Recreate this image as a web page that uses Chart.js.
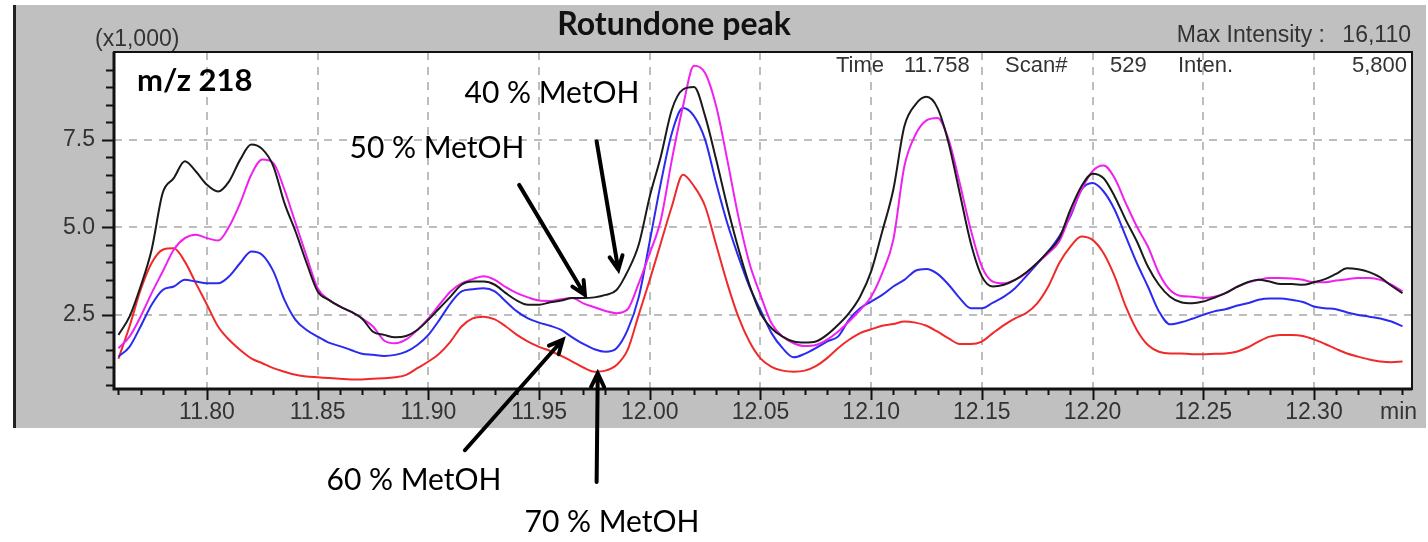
<!DOCTYPE html>
<html>
<head>
<meta charset="utf-8">
<script src="https://cdn.jsdelivr.net/npm/chart.js@4.4.1/dist/chart.umd.min.js"></script>
<style>
  html, body { margin: 0; padding: 0; background: #fff; }
  #wrap { position: relative; width: 1428px; height: 542px; }
</style>
</head>
<body>
<div id="wrap"><canvas id="chart"></canvas></div>
<script>
'use strict';

// retention time grid (min), one reading every 0.005 min
const timeStart = 11.760;
const timeStep = 0.005;

// intensity (x1,000) for each solvent
const metoh40 = [
    1.93, 2.45, 3.31, 4.36, 5.98, 6.40, 6.88, 6.59, 6.21, 6.02,
    6.31, 6.93, 7.36, 7.23, 6.74, 5.69, 4.88, 3.98, 3.17, 2.93,
    2.74, 2.59, 2.40, 2.02, 1.93, 1.86, 1.90, 2.07, 2.36, 2.69,
    3.02, 3.36, 3.45, 3.45, 3.36, 3.12, 2.91, 2.79, 2.79, 2.86,
    2.91, 2.98, 2.98, 3.00, 3.07, 3.21, 3.74, 4.50, 5.88, 7.02,
    8.36, 8.93, 9.00, 8.17, 6.93, 5.60, 4.40, 3.36, 2.55, 2.12,
    1.88, 1.74, 1.71, 1.74, 1.93, 2.21, 2.55, 3.02, 3.74, 4.88,
    6.07, 7.88, 8.50, 8.72, 8.40, 7.40, 5.98, 4.55, 3.60, 3.31,
    3.36, 3.50, 3.71, 3.98, 4.31, 4.69, 5.50, 6.17, 6.53, 6.40,
    5.88, 5.21, 4.60, 3.88, 3.36, 3.02, 2.86, 2.83, 2.88, 2.99,
    3.12, 3.29, 3.43, 3.50, 3.45, 3.38, 3.38, 3.36, 3.43, 3.52,
    3.67, 3.83, 3.80, 3.72, 3.57, 3.33, 3.12
];
const metoh50 = [
    1.55, 1.88, 2.45, 3.12, 3.74, 4.36, 4.69, 4.79, 4.69, 4.62,
    5.02, 5.69, 6.50, 6.93, 6.83, 6.07, 5.12, 4.17, 3.26, 2.93,
    2.74, 2.59, 2.40, 2.17, 1.77, 1.69, 1.80, 2.07, 2.40, 2.79,
    3.17, 3.40, 3.52, 3.60, 3.50, 3.29, 3.12, 3.00, 2.91, 2.90,
    2.95, 2.98, 2.83, 2.72, 2.61, 2.55, 2.66, 3.40, 4.26, 5.21,
    6.93, 8.45, 9.61, 9.40, 8.45, 6.93, 5.31, 3.98, 3.07, 2.26,
    1.88, 1.69, 1.61, 1.64, 1.79, 2.02, 2.31, 2.64, 3.02, 3.69,
    4.64, 6.74, 7.64, 8.05, 8.12, 7.50, 6.26, 4.93, 3.88, 3.45,
    3.40, 3.50, 3.69, 3.98, 4.26, 4.60, 5.36, 6.07, 6.60, 6.76,
    6.40, 5.69, 5.02, 4.45, 3.69, 3.21, 3.04, 3.02, 2.98, 3.02,
    3.12, 3.29, 3.42, 3.50, 3.55, 3.55, 3.54, 3.50, 3.43, 3.43,
    3.48, 3.52, 3.55, 3.55, 3.50, 3.36, 3.17
];
const metoh60 = [
    1.31, 1.59, 2.17, 2.79, 3.21, 3.31, 3.50, 3.45, 3.40, 3.40,
    3.60, 3.98, 4.31, 4.21, 3.74, 2.93, 2.36, 2.07, 1.88, 1.71,
    1.61, 1.50, 1.39, 1.36, 1.33, 1.36, 1.45, 1.64, 1.93, 2.36,
    2.83, 3.17, 3.23, 3.26, 3.17, 2.88, 2.60, 2.40, 2.28, 2.19,
    2.07, 1.86, 1.67, 1.52, 1.45, 1.55, 2.07, 3.00, 4.60, 6.26,
    7.69, 8.40, 8.17, 7.50, 6.26, 5.12, 4.17, 3.31, 2.64, 1.98,
    1.55, 1.29, 1.39, 1.55, 1.74, 1.88, 2.36, 2.69, 2.88, 3.07,
    3.31, 3.50, 3.76, 3.81, 3.67, 3.36, 2.98, 2.69, 2.69, 2.85,
    3.02, 3.26, 3.60, 3.96, 4.31, 4.74, 5.31, 6.07, 6.26, 6.02,
    5.50, 4.74, 3.98, 3.31, 2.60, 2.23, 2.29, 2.39, 2.50, 2.60,
    2.66, 2.76, 2.83, 2.93, 2.97, 2.97, 2.93, 2.87, 2.74, 2.69,
    2.66, 2.57, 2.50, 2.45, 2.40, 2.31, 2.18
];
const metoh70 = [
    1.25, 2.17, 3.21, 3.98, 4.36, 4.40, 4.02, 3.40, 2.79, 2.17,
    1.79, 1.50, 1.26, 1.12, 0.98, 0.88, 0.79, 0.74, 0.72, 0.70,
    0.68, 0.66, 0.66, 0.68, 0.69, 0.72, 0.79, 0.98, 1.17, 1.40,
    1.74, 2.17, 2.40, 2.45, 2.37, 2.17, 1.93, 1.74, 1.59, 1.47,
    1.33, 1.17, 1.00, 0.88, 0.91, 1.07, 1.50, 2.50, 3.50, 4.55,
    5.60, 6.50, 6.17, 5.60, 4.50, 3.40, 2.45, 1.74, 1.26, 1.02,
    0.91, 0.88, 0.91, 1.04, 1.26, 1.55, 1.79, 1.98, 2.09, 2.19,
    2.24, 2.31, 2.28, 2.19, 2.02, 1.83, 1.67, 1.67, 1.74, 1.98,
    2.21, 2.40, 2.55, 2.83, 3.31, 3.98, 4.45, 4.74, 4.64, 4.26,
    3.60, 2.74, 2.07, 1.64, 1.45, 1.40, 1.40, 1.38, 1.38, 1.39,
    1.40, 1.45, 1.57, 1.74, 1.88, 1.93, 1.93, 1.90, 1.80, 1.67,
    1.53, 1.40, 1.31, 1.23, 1.17, 1.15, 1.17
];

const xMajorTicks = [11.80, 11.85, 11.90, 11.95, 12.00, 12.05, 12.10, 12.15, 12.20, 12.25, 12.30];
const yMajorTicks = [2.5, 5.0, 7.5];

// arrows: [time, intensity] of tail and head
const arrows = [
    { from: [11.9760, 7.45], to: [11.9858, 3.79] },
    { from: [11.9410, 6.21], to: [11.9707, 3.07] },
    { from: [11.9165, -1.36], to: [11.9607, 1.79] },
    { from: [11.9760, -2.27], to: [11.9765, 0.83] }
];
const arrowLabels = [
    { text: '40 % MetOH', x: 552, y: 93 },
    { text: '50 % MetOH', x: 437, y: 148 },
    { text: '60 % MetOH', x: 414, y: 480 },
    { text: '70 % MetOH', x: 612, y: 522 }
];

const toPoints = vals => vals.map((v, i) => ({ x: timeStart + i * timeStep, y: v }));

const axisFont = { family: 'Liberation Sans', size: 23 };
const gridStyle = { color: '#bdbdbd', lineWidth: 2, drawTicks: false };
const borderStyle = { display: false, dash: [8, 7] };

const chromPanel = {
    id: 'chromPanel',
    beforeDraw(chart) {
        const ctx = chart.ctx;
        const a = chart.chartArea;
        ctx.save();
        ctx.fillStyle = '#ffffff';
        ctx.fillRect(0, 0, chart.width, chart.height);
        ctx.fillStyle = '#c0c0c0';
        ctx.fillRect(14, 5, 1412, 423);
        ctx.fillStyle = '#222';
        ctx.fillRect(13, 5, 3, 423);
        ctx.fillStyle = '#ffffff';
        ctx.fillRect(a.left, a.top, a.right - a.left, a.bottom - a.top);
        ctx.restore();
    },
    afterDraw(chart) {
        const ctx = chart.ctx;
        const a = chart.chartArea;
        const xs = chart.scales.x;
        const ys = chart.scales.y;
        ctx.save();

        // frame
        ctx.strokeStyle = '#111';
        ctx.lineWidth = 2;
        ctx.strokeRect(a.left, a.top, a.right - a.left, a.bottom - a.top);
        ctx.lineWidth = 3;
        ctx.beginPath();
        ctx.moveTo(a.left, a.top);
        ctx.lineTo(a.left, a.bottom);
        ctx.lineTo(a.right, a.bottom);
        ctx.stroke();

        // tick marks
        ctx.lineWidth = 2;
        ctx.beginPath();
        for (let k = 1176; k <= 1234; k++) {
            const px = Math.round(xs.getPixelForValue(k / 100)) + 0.5;
            const len = k % 5 === 0 ? 11 : 6;
            ctx.moveTo(px, a.bottom);
            ctx.lineTo(px, a.bottom + len);
        }
        for (let k = 1; k <= 19; k++) {
            const py = Math.round(ys.getPixelForValue(k * 0.5)) + 0.5;
            const len = k % 5 === 0 ? 12 : 8;
            ctx.moveTo(a.left, py);
            ctx.lineTo(a.left - len, py);
        }
        ctx.stroke();

        // header texts
        ctx.fillStyle = '#111';
        ctx.textBaseline = 'middle';
        ctx.font = 'bold 32px Lato';
        ctx.textAlign = 'center';
        ctx.fillText('Rotundone peak', 674, 25);
        ctx.font = '23px "Liberation Sans"';
        ctx.fillStyle = '#333';
        ctx.textAlign = 'left';
        ctx.fillText('(x1,000)', 95, 40);
        ctx.textAlign = 'right';
        ctx.fillText('Max Intensity :', 1325, 36);
        ctx.fillText('16,110', 1411, 36);
        ctx.font = '22px "Liberation Sans"';
        ctx.fillText('5,800', 1407, 66);
        ctx.textAlign = 'left';
        ctx.fillText('Time', 836, 66);
        ctx.fillText('11.758', 904, 66);
        ctx.fillText('Scan#', 1005, 66);
        ctx.fillText('529', 1110, 66);
        ctx.fillText('Inten.', 1178, 66);
        ctx.font = '23px "Liberation Sans"';
        ctx.fillText('min', 1380, 413);

        ctx.fillStyle = '#000';
        ctx.font = 'bold 31px Lato';
        ctx.fillText('m/z 218', 137, 81);

        ctx.font = '30px Lato';
        ctx.textAlign = 'center';
        arrowLabels.forEach(l => ctx.fillText(l.text, l.x, l.y));

        // arrows
        ctx.strokeStyle = '#000';
        ctx.lineWidth = 4;
        ctx.lineCap = 'round';
        arrows.forEach(ar => {
            const x0 = xs.getPixelForValue(ar.from[0]);
            const y0 = ys.getPixelForValue(ar.from[1]);
            const x1 = xs.getPixelForValue(ar.to[0]);
            const y1 = ys.getPixelForValue(ar.to[1]);
            const ang = Math.atan2(y1 - y0, x1 - x0);
            const head = 15;
            ctx.beginPath();
            ctx.moveTo(x0, y0);
            ctx.lineTo(x1, y1);
            ctx.moveTo(x1 - head * Math.cos(ang - 0.45), y1 - head * Math.sin(ang - 0.45));
            ctx.lineTo(x1, y1);
            ctx.lineTo(x1 - head * Math.cos(ang + 0.45), y1 - head * Math.sin(ang + 0.45));
            ctx.stroke();
        });
        ctx.restore();
    }
};

const lineSet = (label, vals, color) => ({
    label: label,
    data: toPoints(vals),
    borderColor: color,
    borderWidth: 2,
    pointRadius: 0,
    fill: false,
    cubicInterpolationMode: 'monotone'
});

new Chart(document.getElementById('chart'), {
    type: 'line',
    data: {
        datasets: [
            lineSet('40 % MetOH', metoh40, '#1a1a1a'),
            lineSet('50 % MetOH', metoh50, '#f020f0'),
            lineSet('60 % MetOH', metoh60, '#2a2af0'),
            lineSet('70 % MetOH', metoh70, '#f02a2a')
        ]
    },
    options: {
        responsive: true,
        maintainAspectRatio: false,
        animation: false,
        layout: { padding: { left: 0, right: 16, top: 52, bottom: 0 } },
        plugins: {
            legend: { display: false },
            tooltip: { enabled: false }
        },
        scales: {
            x: {
                type: 'linear',
                min: 11.758,
                max: 12.3443,
                afterFit: s => { s.height = 153; },
                afterBuildTicks: s => { s.ticks = xMajorTicks.map(v => ({ value: v })); },
                grid: gridStyle,
                border: borderStyle,
                ticks: {
                    font: axisFont,
                    color: '#333',
                    padding: 10,
                    maxRotation: 0,
                    callback: v => v.toFixed(2)
                }
            },
            y: {
                type: 'linear',
                min: 0.386,
                max: 10,
                afterFit: s => { s.width = 114; },
                afterBuildTicks: s => { s.ticks = yMajorTicks.map(v => ({ value: v })); },
                grid: gridStyle,
                border: borderStyle,
                ticks: {
                    font: axisFont,
                    color: '#333',
                    padding: 19,
                    callback: v => v.toFixed(1)
                }
            }
        }
    },
    plugins: [chromPanel]
});
</script>
</body>
</html>
